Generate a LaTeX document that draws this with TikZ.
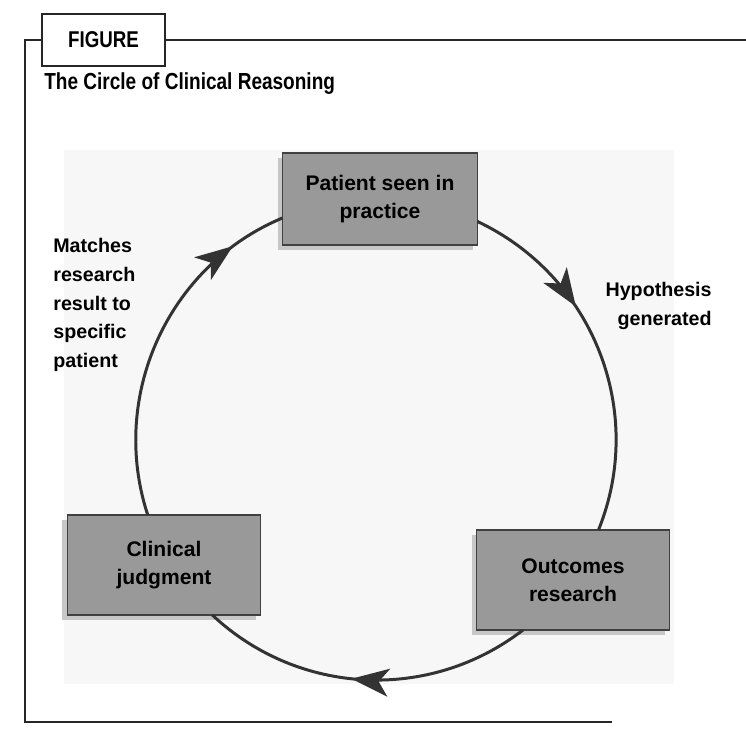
\documentclass[tikz,border=0pt]{standalone}
\usepackage{fontspec}
\setmainfont{Liberation Sans}
\newfontfamily\narrowfont[FakeStretch=0.82]{Liberation Sans}
\usetikzlibrary{arrows.meta,decorations.markings,shadows}
\tikzset{
    stagenode/.style = {
        align=center,
        text centered,
        font=\bfseries\fontsize{12}{16}\selectfont,
        rectangle,
        fill=black!40,
        draw=black!75,
        line width=0.6pt,
        drop shadow={shadow xshift=-1mm, shadow yshift=-1mm, fill=black!22, opacity=1},
        minimum width=38.6mm,
        minimum height=20mm,
        inner sep=1mm,
        outer sep=0mm
    },
    tabnode/.style = {
        rectangle,
        draw=black!85,
        line width=0.8pt,
        fill=white,
        minimum width=24.6mm,
        minimum height=10.4mm,
        font=\narrowfont\bfseries\fontsize{13}{15}\selectfont
    },
    titletext/.style = {
        inner sep=0pt,
        font=\narrowfont\bfseries\fontsize{13.2}{15}\selectfont
    },
    notetext/.style = {
        inner sep=0pt,
        font=\bfseries\fontsize{11.2}{16.3}\selectfont
    },
    framerule/.style = {
        draw=black!85,
        line width=0.8pt
    },
    cyclearrow/.style = {
        draw=black!80,
        line width=1.7pt,
        postaction={decorate},
        decoration={markings,
            mark=at position #1 with {\arrow{Stealth[length=7.5mm, width=5.6mm, inset=2mm]}}}
    }
}

\begin{document}
\begin{tikzpicture}[x=0.2mm, y=0.2mm]
    \useasboundingbox (0,0) rectangle (746,-740);
    \fill [black!3] (64,-150) rectangle (674,-684);

    \node [tabnode] (tab) at (103.5,-40) {FIGURE};
    \draw [framerule] (tab.west) -- (25,-40) -- (25,-722) -- (612,-722);
    \draw [framerule] (tab.east) -- (746,-40);
    \node [titletext, anchor=base west] (title) at (44,-90) {The Circle of Clinical Reasoning};

    \node [stagenode, minimum width=39mm, minimum height=18.4mm] (patient) at (380,-199) {Patient seen in\\practice};
    \node [stagenode] (outcomes) at (573,-580) {Outcomes\\research};
    \node [stagenode] (judgment) at (164,-565) {Clinical\\judgment};

    \draw [cyclearrow=0.36] (patient.-13.83) to [out=-25.28, in=67.98, looseness=0.99] (outcomes.63.9);
    \draw [cyclearrow=0.54] (outcomes.-135.8) to [out=-142.35, in=-43.17, looseness=0.97] (judgment.-46.9);
    \draw [cyclearrow=0.84] (judgment.108.78) to [out=108.21, in=202.67, looseness=0.98] (patient.191.31);

    \node [notetext, align=left, anchor=west] (matchnote) at (53,-305) {Matches\\research\\result to\\specific\\patient};
    \node [notetext, align=right, anchor=east] (hyponote) at (712,-306) {Hypothesis\\generated};
\end{tikzpicture}
\end{document}
